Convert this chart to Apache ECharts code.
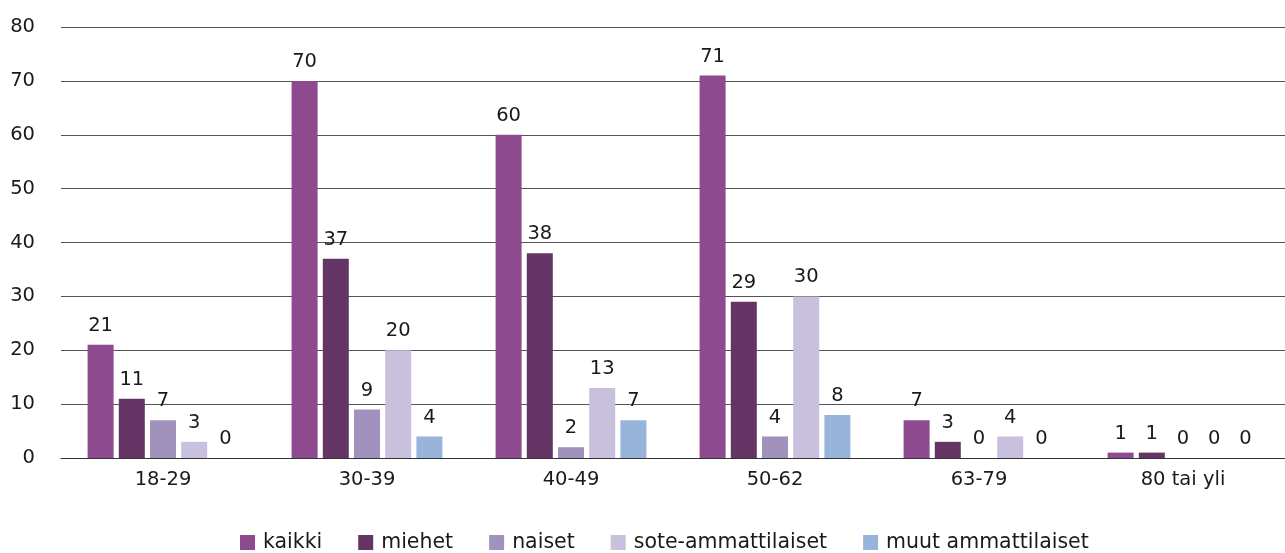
<!DOCTYPE html>
<html>
<head>
<meta charset="utf-8">
<script src="https://cdn.jsdelivr.net/npm/echarts@6/dist/echarts.min.js"></script>
<style>
  html, body { margin: 0; padding: 0; background: #fff; }
  #chart { width: 1285px; height: 553px; }
</style>
</head>
<body>
<div id="chart"></div>
<script>
// age groups
var categories = ["18-29", "30-39", "40-49", "50-62", "63-79", "80 tai yli"];
var kaikki = [21, 70, 60, 71, 7, 1];
var miehet = [11, 37, 38, 29, 3, 1];
var naiset = [7, 9, 2, 4, 0, 0];
var sote = [3, 20, 13, 30, 4, 0];
var muut = [0, 4, 7, 8, 0, 0];
var yTicks = [0, 10, 20, 30, 40, 50, 60, 70, 80];

var font = "DejaVu Sans";
var fs = 19.5;

function bar(name, data, color) {
  return {
    name: name,
    type: "bar",
    data: data,
    barWidth: 26,
    barGap: "20%",
    itemStyle: { color: color },
    label: {
      show: true,
      position: "top",
      distance: 9,
      color: "#1a1a1a",
      fontFamily: font,
      fontSize: fs
    }
  };
}

var chart = echarts.init(document.getElementById("chart"));
chart.setOption({
  animation: false,
  textStyle: { fontFamily: font },
  grid: { left: 61, right: 0, top: 27, bottom: 95 },
  legend: {
    bottom: -5,
    left: 235,
    itemWidth: 15,
    itemHeight: 15,
    itemGap: 36,
    icon: "rect",
    textStyle: { fontFamily: font, fontSize: 20.5, color: "#1a1a1a", padding: [0, 0, 0, 3] },
    data: ["kaikki", "miehet", "naiset", "sote-ammattilaiset", "muut ammattilaiset"]
  },
  xAxis: {
    type: "category",
    data: categories,
    axisTick: { show: false },
    axisLine: { lineStyle: { color: "#333", width: 1 } },
    axisLabel: { color: "#1a1a1a", fontSize: fs, fontFamily: font, margin: 12 }
  },
  yAxis: {
    type: "value",
    min: yTicks[0],
    max: yTicks[yTicks.length - 1],
    interval: 10,
    axisLine: { show: false },
    axisTick: { show: false },
    axisLabel: { color: "#1a1a1a", fontSize: fs, fontFamily: font, margin: 26 },
    splitLine: { lineStyle: { color: "#555", width: 1 } }
  },
  series: [
    bar("kaikki", kaikki, "#8d4a8f"),
    bar("miehet", miehet, "#643564"),
    bar("naiset", naiset, "#a092bd"),
    bar("sote-ammattilaiset", sote, "#c9c0dd"),
    bar("muut ammattilaiset", muut, "#98b4da")
  ]
});
</script>
</body>
</html>
